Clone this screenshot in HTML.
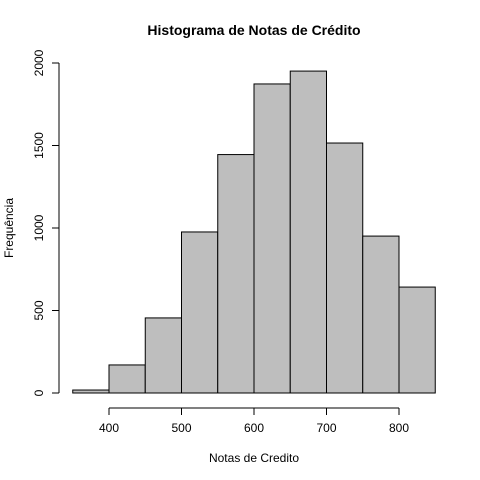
<!DOCTYPE html>
<html><head><meta charset="utf-8"><style>body{margin:0;background:#fff}svg{display:block}text{font-family:"Liberation Sans",sans-serif;fill:#000}</style></head>
<body>
<svg id="chart" width="480" height="480" viewBox="0 0 480 480">
<rect width="480" height="480" fill="#fff"/>
<text x="254" y="35" text-anchor="middle" font-size="14" font-weight="bold">Histograma de Notas de Crédito</text>
<text x="254" y="462" text-anchor="middle" font-size="12">Notas de Credito</text>
<text transform="translate(13,228) rotate(-90)" text-anchor="middle" font-size="12">Frequência</text>
<g id="bars"></g><g id="axes"></g>
</svg>
<script>
const binStarts=[350,400,450,500,550,600,650,700,750,800];
const counts=[18,170,455,976,1445,1873,1951,1515,951,642];
const xTicks=[400,500,600,700,800];
const yTicks=[0,500,1000,1500,2000];
const binWidth=50;
const X=v=>72.75+(v-350)*0.725;
const Y=v=>393-v*0.165;
const ns="http://www.w3.org/2000/svg";
const bars=document.getElementById('bars'),axes=document.getElementById('axes');
function mk(tag,attrs,parent){const e=document.createElementNS(ns,tag);for(const k in attrs)e.setAttribute(k,attrs[k]);parent.appendChild(e);return e;}
binStarts.forEach((b,i)=>{
 const r=mk('rect',{x:X(b),y:Y(counts[i]),width:X(b+binWidth)-X(b),height:Y(0)-Y(counts[i]),fill:'#bebebe',stroke:'#000','stroke-width':1},bars);
 
 
});
const xa=mk('line',{x1:X(xTicks[0]),x2:X(xTicks[xTicks.length-1]),y1:408,y2:408,stroke:'#000'},axes);


xTicks.forEach(t=>{
 mk('line',{x1:X(t),x2:X(t),y1:408,y2:415,stroke:'#000'},axes);
 const tx=mk('text',{x:X(t),y:432,'text-anchor':'middle','font-size':12},axes);tx.textContent=t;
 
 
});
const ya=mk('line',{x1:59,x2:59,y1:Y(yTicks[0]),y2:Y(yTicks[yTicks.length-1]),stroke:'#000'},axes);


yTicks.forEach(t=>{
 mk('line',{x1:52,x2:59,y1:Y(t),y2:Y(t),stroke:'#000'},axes);
 const tx=mk('text',{transform:`translate(43,${Y(t)}) rotate(-90)`,'text-anchor':'middle','font-size':12},axes);tx.textContent=t;
 
 
});
</script>
</body></html>
